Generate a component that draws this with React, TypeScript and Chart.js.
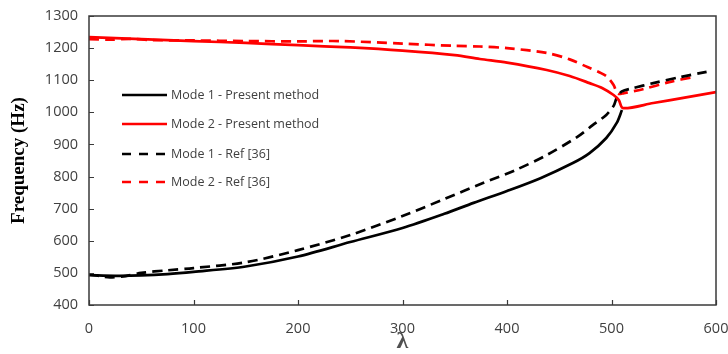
import React, { useEffect, useRef } from 'react';
import { Chart, registerables } from 'chart.js';
Chart.register(...registerables);

// ---- Data (λ vs frequency in Hz) ----
const mode1PresentLambda = [0, 25, 50, 75, 100, 150, 200, 250, 300, 340, 368, 400, 432, 463, 479, 495, 505, 510];
const mode1PresentFreq = [493, 491, 492, 496, 503, 520, 551, 596, 640, 684, 718, 755, 795, 842, 873, 920, 967, 1007];

const mode2PresentLambda = [0, 50, 100, 150, 200, 250, 300, 350, 374, 400, 438, 460, 479, 491, 502, 507, 511, 540, 570, 600];
const mode2PresentFreq = [1234, 1228, 1222, 1216, 1209, 1202, 1192, 1178, 1166, 1155, 1132, 1113, 1091, 1076, 1054, 1038, 1013, 1029, 1046, 1063];

const mode1RefLambda = [0, 10, 20, 35, 50, 75, 100, 150, 200, 250, 300, 340, 377, 408, 438, 467, 482, 495, 502, 505, 510, 520, 540, 566, 591];
const mode1RefFreq = [495, 490, 486, 490, 500, 508, 515, 533, 571, 618, 677, 730, 780, 820, 867, 923, 960, 992, 1020, 1045, 1065, 1075, 1091, 1110, 1126];

const mode2RefLambda = [0, 20, 40, 60, 100, 150, 200, 240, 300, 350, 374, 400, 438, 460, 477, 490, 496, 502, 506, 512, 530, 555, 578];
const mode2RefFreq = [1228, 1226, 1229, 1225, 1224, 1222, 1221, 1222, 1214, 1207, 1205, 1200, 1185, 1165, 1141, 1122, 1110, 1085, 1058, 1060, 1072, 1094, 1110];

const seriesLabels = ['Mode 1 - Present method', 'Mode 2 - Present method', 'Mode 1 - Ref [36]', 'Mode 2 - Ref [36]'];

const xMin = 0, xMax = 600, xStep = 100;
const yMin = 400, yMax = 1300, yStep = 100;
const xTitle = 'λ';
const yTitle = 'Frequency (Hz)';

function pts(xs: number[], ys: number[]) {
  return xs.map((x, i) => ({ x, y: ys[i] }));
}

const frameAndTicks = {
  id: 'frameAndTicks',
  afterDraw(chart: any) {
    const { ctx, chartArea } = chart;
    const { left, right, top, bottom } = chartArea;
    ctx.save();
    ctx.strokeStyle = '#3a3a3a';
    ctx.lineWidth = 1.5;
    ctx.strokeRect(left, top, right - left, bottom - top);
    const xs = chart.scales.x, ys = chart.scales.y;
    ctx.beginPath();
    xs.ticks.forEach((t: any) => {
      const px = Math.round(xs.getPixelForValue(t.value)) + 0.5;
      ctx.moveTo(px, bottom);
      ctx.lineTo(px, bottom - 5);
    });
    ys.ticks.forEach((t: any) => {
      const py = Math.round(ys.getPixelForValue(t.value)) + 0.5;
      ctx.moveTo(left, py);
      ctx.lineTo(left + 5, py);
    });
    ctx.lineWidth = 1.2;
    ctx.stroke();
    ctx.restore();
  },
};

const insideLegend = {
  id: 'insideLegend',
  afterDraw(chart: any) {
    const { ctx, chartArea } = chart;
    const x0 = chartArea.left + 33, x1 = chartArea.left + 78, tx = chartArea.left + 82;
    const rows = [79, 108, 138, 166];
    chart.data.datasets.forEach((ds: any, i: number) => {
      const y = chartArea.top + rows[i];
      ctx.save();
      ctx.strokeStyle = ds.borderColor;
      ctx.lineWidth = ds.borderWidth;
      ctx.setLineDash(ds.borderDash && ds.borderDash.length ? [9, 8] : []);
      ctx.beginPath();
      ctx.moveTo(x0, y);
      ctx.lineTo(x1, y);
      ctx.stroke();
      ctx.setLineDash([]);
      ctx.fillStyle = '#404040';
      ctx.font = '12.5px "Open Sans"';
      ctx.textBaseline = 'middle';
      ctx.fillText(ds.label, tx, y);
      ctx.restore();
    });
  },
};

export default function App() {
  const ref = useRef<HTMLCanvasElement>(null);
  useEffect(() => {
    document.body.style.margin = '0';
    const canvas = ref.current;
    if (!canvas) return;
    const common = { pointRadius: 0, borderWidth: 2.7, tension: 0.3, fill: false };
    const chart = new Chart(canvas, {
      type: 'line',
      data: {
        datasets: [
          { ...common, label: seriesLabels[0], data: pts(mode1PresentLambda, mode1PresentFreq), borderColor: '#000000', backgroundColor: '#000000' },
          { ...common, label: seriesLabels[1], data: pts(mode2PresentLambda, mode2PresentFreq), borderColor: '#ff0000', backgroundColor: '#ff0000' },
          { ...common, label: seriesLabels[2], data: pts(mode1RefLambda, mode1RefFreq), borderColor: '#000000', backgroundColor: '#000000', borderDash: [10, 6] },
          { ...common, label: seriesLabels[3], data: pts(mode2RefLambda, mode2RefFreq), borderColor: '#ff0000', backgroundColor: '#ff0000', borderDash: [10, 6] },
        ],
      },
      options: {
        animation: false,
        responsive: false,
        layout: { padding: { top: 16, right: 12, left: 0, bottom: 0 } },
        plugins: { legend: { display: false }, tooltip: { enabled: false } },
        scales: {
          x: {
            type: 'linear',
            min: xMin,
            max: xMax,
            grid: { display: false, drawTicks: false },
            border: { display: false },
            ticks: { stepSize: xStep, padding: 15, color: '#404040', font: { family: '"Open Sans"', size: 14.5 }, callback: (v: any) => String(v) },
            title: { display: true, text: xTitle, color: '#505050', font: { family: '"Liberation Serif"', size: 24, weight: 'bold' }, padding: { top: 0, bottom: -2 } },
            afterFit: (s: any) => { s.height = 49; s.paddingLeft = 0; s.paddingRight = 0; },
          },
          y: {
            type: 'linear',
            min: yMin,
            max: yMax,
            grid: { display: false, drawTicks: false },
            border: { display: false },
            ticks: { stepSize: yStep, padding: 11, color: '#404040', font: { family: '"Open Sans"', size: 14.5 }, callback: (v: any) => String(v) },
            title: { display: true, text: yTitle, color: '#000000', font: { family: '"Liberation Serif"', size: 19, weight: 'bold' }, padding: { top: 8, bottom: 0 } },
            afterFit: (s: any) => { s.width = 89; s.paddingTop = 0; s.paddingBottom = 0; },
          },
        },
      },
      plugins: [frameAndTicks, insideLegend],
    });
    return () => chart.destroy();
  }, []);
  return (
    <div style={{ width: 728, height: 354 }}>
      <canvas ref={ref} width={728} height={354} />
    </div>
  );
}
